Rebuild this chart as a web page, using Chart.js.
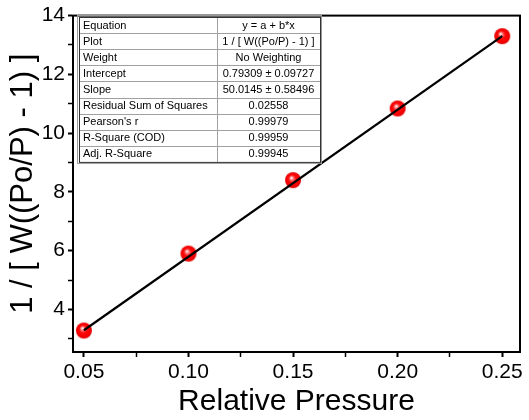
<!DOCTYPE html>
<html>
<head>
<meta charset="utf-8">
<script src="https://cdn.jsdelivr.net/npm/chart.js@4"></script>
<style>
  body { margin: 0; background: #fff; }
</style>
</head>
<body>
<canvas id="bet-chart" width="529" height="420"></canvas>
<script>
/* =================================
  data
==================================== */
const pressure = [0.05, 0.10, 0.15, 0.20, 0.25];
const betValues = [3.28, 5.90, 8.40, 10.84, 13.30];
const fitX = [0.05, 0.25];
const fitY = [3.29, 13.30];
const xMajor = [0.05, 0.10, 0.15, 0.20, 0.25];
const yMajor = [4, 6, 8, 10, 12, 14];
const tableNames = ['Equation', 'Plot', 'Weight', 'Intercept', 'Slope',
  'Residual Sum of Squares', "Pearson's r", 'R-Square (COD)', 'Adj. R-Square'];
const tableValues = ['y = a + b*x', '1 / [ W((Po/P) - 1) ]', 'No Weighting',
  '0.79309 \u00b1 0.09727', '50.0145 \u00b1 0.58496', '0.02558', '0.99979',
  '0.99959', '0.99945'];

const FONT = "'Liberation Sans', Arial, sans-serif";
const canvas = document.getElementById('bet-chart');

/* =================================
  red ball marker
==================================== */
function makeBall(r) {
  const c = document.createElement('canvas');
  c.width = c.height = r * 2 + 2;
  const g = c.getContext('2d');
  const m = r + 1;
  const grad = g.createRadialGradient(m - r * 0.2, m - r * 0.3, r * 0.05, m, m, r);
  grad.addColorStop(0, '#ffffff');
  grad.addColorStop(0.18, '#ff7a7a');
  grad.addColorStop(0.45, '#ff0a0a');
  grad.addColorStop(0.85, '#f20000');
  grad.addColorStop(1, '#d80000');
  g.fillStyle = grad;
  g.beginPath();
  g.arc(m, m, r, 0, Math.PI * 2);
  g.fill();
  return c;
}
const ball = makeBall(8);

const isMajor = (list, v) => list.some(t => Math.abs(t - v) < 1e-6);

/* =================================
  frame + stats table
==================================== */
const framePlugin = {
  id: 'frame',
  afterDraw(chart) {
    const ctx = chart.ctx;
    const a = chart.chartArea;
    ctx.save();
    ctx.strokeStyle = '#000';
    ctx.lineWidth = 2;
    ctx.strokeRect(a.left, a.top, a.right - a.left, a.bottom - a.top);

    // table
    const left = 79, top = 17, colX = 217, right = 320, rowH = 16.1;
    const bottom = top + rowH * tableNames.length;
    ctx.fillStyle = '#fff';
    ctx.fillRect(left, top, right - left, bottom - top);
    ctx.strokeStyle = '#999';
    ctx.lineWidth = 1;
    ctx.strokeRect(left - 1.5, top - 1.5, right - left + 3, bottom - top + 3);
    ctx.strokeStyle = '#a0a0a0';
    for (let i = 1; i < tableNames.length; i++) {
      const y = Math.round(top + rowH * i) + 0.5;
      ctx.beginPath();
      ctx.moveTo(left, y);
      ctx.lineTo(right, y);
      ctx.stroke();
    }
    ctx.beginPath();
    ctx.moveTo(colX + 0.5, top);
    ctx.lineTo(colX + 0.5, bottom);
    ctx.stroke();
    ctx.strokeStyle = '#333';
    ctx.strokeRect(left + 0.5, top + 0.5, right - left, bottom - top);

    ctx.fillStyle = '#000';
    ctx.font = '11px ' + FONT;
    ctx.textBaseline = 'middle';
    for (let i = 0; i < tableNames.length; i++) {
      const y = top + rowH * i + rowH / 2 + 0.5;
      ctx.textAlign = 'left';
      ctx.fillText(tableNames[i], left + 4, y);
      ctx.textAlign = 'center';
      ctx.fillText(tableValues[i], (colX + right) / 2, y);
    }
    ctx.restore();
  }
};

/* =================================
  chart
==================================== */
const betChart = new Chart(canvas, {
  type: 'scatter',
  data: {
    datasets: [
      {
        type: 'line',
        data: fitX.map((x, i) => ({ x: x, y: fitY[i] })),
        borderColor: '#000',
        borderWidth: 2.2,
        pointRadius: 0,
        fill: false
      },
      {
        data: pressure.map((x, i) => ({ x: x, y: betValues[i] })),
        pointStyle: ball,
        pointRadius: 8
      }
    ]
  },
  plugins: [framePlugin],
  options: {
    responsive: false,
    animation: false,
    layout: { padding: { top: 14, right: 4, left: 0, bottom: 0 } },
    plugins: { legend: { display: false }, tooltip: { enabled: false } },
    scales: {
      x: {
        type: 'linear',
        min: 0.0448,
        max: 0.2585,
        afterFit(scale) { scale.height = 68; },
        border: { display: true, color: '#000', width: 2 },
        grid: {
          drawOnChartArea: false,
          color: '#000',
          tickLength: 5,
          tickWidth: ctx => isMajor(xMajor, ctx.tick.value) ? 2 : 1.5
        },
        ticks: {
          stepSize: 0.025,
          includeBounds: false,
          autoSkip: false,
          maxRotation: 0,
          color: '#000',
          padding: 3,
          font: { family: FONT, size: 21 },
          callback: v => isMajor(xMajor, v) ? v.toFixed(2) : ''
        },
        title: {
          display: true,
          text: 'Relative Pressure',
          color: '#000',
          font: { family: FONT, size: 30 },
          padding: { top: 0, bottom: 0 }
        }
      },
      y: {
        type: 'linear',
        min: 2.55,
        max: 14,
        afterFit(scale) { scale.width = 73; },
        border: { display: true, color: '#000', width: 2 },
        grid: {
          drawOnChartArea: false,
          color: '#000',
          tickLength: 5,
          tickWidth: ctx => isMajor(yMajor, ctx.tick.value) ? 2 : 1.5
        },
        ticks: {
          stepSize: 1,
          includeBounds: false,
          autoSkip: false,
          color: '#000',
          padding: 3,
          font: { family: FONT, size: 21 },
          callback: v => isMajor(yMajor, v) ? String(v) : ''
        },
        title: {
          display: true,
          text: '1 / [ W((Po/P) - 1) ]',
          color: '#000',
          font: { family: FONT, size: 31 },
          padding: { top: 5, bottom: 0 }
        }
      }
    }
  }
});
</script>
</body>
</html>
